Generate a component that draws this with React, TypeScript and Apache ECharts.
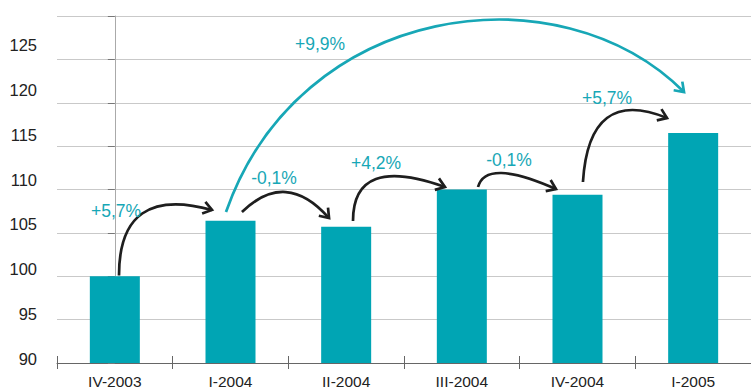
import React, { useEffect, useRef } from "react";
import * as echarts from "echarts";

const categories = ["IV-2003", "I-2004", "II-2004", "III-2004", "IV-2004", "I-2005"];
const values = [100, 106.4, 105.7, 110, 109.4, 116.5];

// Annotation arrows in data units (x = category index, y = index value)
// black: quadratic [x0, y0, cx, cy, x1, y1]
const blackArrows = [
  [0.036, 100.1, 0.036, 110.6, 0.84, 107.64],
  [1.099, 107.4, 1.48, 112.36, 1.852, 106.7],
  [2.059, 106.37, 2.059, 114.09, 2.854, 110.29],
  [3.14, 110.29, 3.209, 113.63, 3.814, 110.06],
  [4.047, 110.86, 4.099, 121.93, 4.774, 118.24],
];
// teal: cubic [x0, y0, c1x, c1y, c2x, c2y, x1, y1]
const tealArrow = [0.961, 107.4, 1.596, 131.61, 3.84, 135.65, 4.921, 121.24];

const changeLabels = ["+5,7%", "-0,1%", "+4,2%", "-0,1%", "+5,7%", "+9,9%"];
const labelX = [0.01, 1.376, 2.258, 3.408, 4.255, 1.774];
const labelY = [107.52, 111.33, 113.05, 113.4, 120.55, 126.77];

const BAR = "#00a5b4";
const TEAL = "#17a7b6";
const BLACK = "#1e1e1e";
const AXIS_FONT = '"Liberation Sans", Arial, sans-serif';
const LABEL_FONT = '"Liberation Sans", Arial, sans-serif';

const allArrows = [...blackArrows, tealArrow];

export default function App() {
  const ref = useRef<HTMLDivElement>(null);
  useEffect(() => {
    if (!ref.current) return;
    const chart = echarts.init(ref.current, undefined, { renderer: "svg" });

    const renderArrow = (params: any, api: any) => {
      const a = allArrows[params.dataIndex];
      const pts: number[][] = [];
      for (let k = 0; k < a.length; k += 2) pts.push(api.coord([a[k], a[k + 1]]));
      const cubic = a.length === 8;
      const color = cubic ? TEAL : BLACK;
      const shape: any = cubic
        ? { x1: pts[0][0], y1: pts[0][1], cpx1: pts[1][0], cpy1: pts[1][1], cpx2: pts[2][0], cpy2: pts[2][1], x2: pts[3][0], y2: pts[3][1] }
        : { x1: pts[0][0], y1: pts[0][1], cpx1: pts[1][0], cpy1: pts[1][1], x2: pts[2][0], y2: pts[2][1] };
      const tip = pts[pts.length - 1];
      const prev = pts[pts.length - 2];
      let dx = tip[0] - prev[0];
      let dy = tip[1] - prev[1];
      const len = Math.hypot(dx, dy) || 1;
      dx /= len;
      dy /= len;
      const L = 10.5;
      const ang = 0.62;
      const wing = (s: number) => {
        const c = Math.cos(s * ang);
        const sn = Math.sin(s * ang);
        const rx = dx * c - dy * sn;
        const ry = dx * sn + dy * c;
        return [tip[0] - L * rx, tip[1] - L * ry];
      };
      return {
        type: "group",
        children: [
          { type: "bezierCurve", shape, style: { stroke: color, lineWidth: 2.7, fill: "none" } },
          {
            type: "polyline",
            shape: { points: [wing(1), tip, wing(-1)] },
            style: { stroke: color, lineWidth: 2.7, fill: "none" },
          },
        ],
      };
    };

    const renderLabel = (params: any, api: any) => {
      const p = api.coord([api.value(0), api.value(1)]);
      return {
        type: "text",
        x: p[0],
        y: p[1],
        style: {
          text: changeLabels[params.dataIndex],
          fill: TEAL,
          font: `17.5px ${LABEL_FONT}`,
          align: "center",
          verticalAlign: "middle",
        },
      };
    };

    chart.setOption({
      animation: false,
      grid: [
        { left: 57, right: 0, top: 16, bottom: 27, containLabel: false },
        { left: 57, right: 0, top: 45, height: 314, containLabel: false },
      ],
      xAxis: [
        {
          type: "category",
          gridIndex: 0,
          data: categories,
          axisLine: { lineStyle: { color: "#666", width: 1 } },
          axisTick: { show: true, length: 6, lineStyle: { color: "#666" } },
          axisLabel: { color: "#222", fontFamily: AXIS_FONT, fontSize: 15.5, margin: 10 },
        },
        { type: "value", gridIndex: 0, min: -0.5, max: 5.5, show: false },
        { type: "value", gridIndex: 1, min: 0, max: 1, show: false },
        {
          type: "category",
          gridIndex: 0,
          position: "bottom",
          data: categories,
          axisLine: { show: false },
          axisTick: { show: true, inside: true, length: 7, lineStyle: { color: "#666" } },
          axisLabel: { show: false },
        },
      ],
      yAxis: [
        {
          type: "value",
          gridIndex: 0,
          min: 90,
          max: 130,
          interval: 5,
          axisLine: { show: true, lineStyle: { color: "#aaa" } },
          axisTick: { show: true, length: 7, lineStyle: { color: "#777" } },
          axisLabel: { show: false },
          splitLine: { show: true, lineStyle: { color: "#c9c9c9", width: 1 } },
        },
        {
          type: "value",
          gridIndex: 1,
          min: 90,
          max: 125,
          interval: 5,
          axisLine: { show: false },
          axisTick: { show: false },
          splitLine: { show: false },
          axisLabel: { color: "#222", fontFamily: AXIS_FONT, fontSize: 16.5, margin: 20 },
        },
      ],
      series: [
        {
          type: "bar",
          xAxisIndex: 0,
          yAxisIndex: 0,
          data: values,
          barWidth: 50,
          itemStyle: { color: BAR },
        },
        {
          type: "custom",
          coordinateSystem: "cartesian2d",
          xAxisIndex: 1,
          yAxisIndex: 0,
          clip: false,
          silent: true,
          data: allArrows.map((a) => [a[a.length - 2], a[a.length - 1]]),
          renderItem: renderArrow,
          z: 5,
        },
        {
          type: "custom",
          coordinateSystem: "cartesian2d",
          xAxisIndex: 1,
          yAxisIndex: 0,
          clip: false,
          silent: true,
          data: labelX.map((x, i) => [x, labelY[i]]),
          renderItem: renderLabel,
          z: 6,
        },
      ],
    });
    return () => chart.dispose();
  }, []);
  return (
    <div
      ref={ref}
      style={{ position: "absolute", left: 0, top: 0, width: 751, height: 390, background: "#fff" }}
    />
  );
}
